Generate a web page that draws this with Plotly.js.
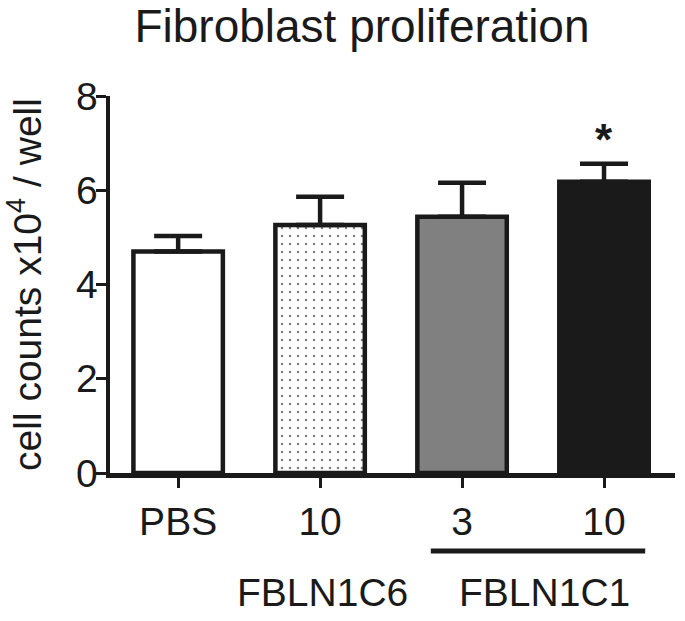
<!DOCTYPE html>
<html>
<head>
<meta charset="utf-8">
<script src="https://cdn.plot.ly/plotly-3.0.1.min.js"></script>
<style>
  html, body { margin: 0; padding: 0; background: #fff; }
  #grafico { width: 685px; height: 621px; }
</style>
</head>
<body>
<div id="grafico"></div>
<script>
// data
const categories = ['PBS', '10', '3', '10'];
const means = [4.70, 5.26, 5.44, 6.18];
const errors = [0.33, 0.60, 0.72, 0.38];
const fills = ['#ffffff', '#ffffff', '#808080', '#1a1a1a'];
const patterns = ['', '.', '', ''];
const groupLabels = ['FBLN1C6', 'FBLN1C1'];
const sigMarks = ['', '', '', '*'];

const ink = '#1a1a1a';
const font = 'Liberation Sans, Arial, sans-serif';
const xs = categories.map((c, i) => i);

// one trace per bar so each can carry its own fill / pattern
const traces = xs.map(i => {
    const marker = { color: fills[i], line: { color: ink, width: 4.5 } };
    if (patterns[i]) {
        marker.pattern = { shape: patterns[i], fgcolor: '#000000', bgcolor: '#ffffff', size: 8, solidity: 0.08, fillmode: 'overlay' };
    }
    return {
        type: 'bar',
        x: [i],
        y: [means[i]],
        width: 0.63,
        marker,
        error_y: {
            type: 'data', symmetric: false,
            array: [errors[i]], arrayminus: [0],
            color: ink, thickness: 4.5, width: 24
        },
        hoverinfo: 'skip'
    };
});

const annotations = [];
sigMarks.forEach((m, i) => {
    if (!m) return;
    annotations.push({
        x: i, y: means[i] + errors[i], xref: 'x', yref: 'y',
        text: m, showarrow: false, yanchor: 'bottom', yshift: -2,
        font: { family: font, size: 44, color: ink, weight: 'bold' }
    });
});
// group labels under the tick labels
annotations.push({ x: 1.02, y: -0.318, xref: 'x', yref: 'paper', text: groupLabels[0], showarrow: false, yanchor: 'middle', font: { family: font, size: 39, color: ink } });
annotations.push({ x: 2.58, y: -0.318, xref: 'x', yref: 'paper', text: groupLabels[1], showarrow: false, yanchor: 'middle', font: { family: font, size: 39, color: ink } });

const layout = {
    width: 685, height: 621,
    margin: { l: 110, r: 10, t: 96, b: 148 },
    paper_bgcolor: '#ffffff', plot_bgcolor: '#ffffff',
    font: { family: font, color: ink },
    showlegend: false,
    barmode: 'overlay',
    title: { text: 'Fibroblast proliferation', font: { size: 46, color: ink }, x: 0.446, xanchor: 'center', xref: 'paper', y: 0.958, yanchor: 'middle', yref: 'container' },
    xaxis: {
        range: [-0.48, 3.5], tickmode: 'array', tickvals: xs, ticktext: categories,
        showline: true, linecolor: ink, linewidth: 4.5,
        ticks: 'outside', ticklen: 10, tickwidth: 3, tickcolor: ink,
        ticklabelstandoff: 1,
        tickfont: { size: 39, color: ink },
        showgrid: false, zeroline: false, fixedrange: true
    },
    yaxis: {
        range: [0, 8], dtick: 2, tick0: 0,
        showline: true, linecolor: ink, linewidth: 4.5,
        ticks: 'outside', ticklen: 10, tickwidth: 3, tickcolor: ink,
        ticklabelstandoff: -10,
        tickfont: { size: 39, color: ink },
        showgrid: false, zeroline: false, fixedrange: true,
        title: { text: 'cell counts x10<sup>4</sup> / well', font: { size: 39, color: ink }, standoff: 26 }
    },
    shapes: [{
        type: 'line', xref: 'x', yref: 'paper',
        x0: 1.78, x1: 3.29, y0: -0.207, y1: -0.207,
        line: { color: ink, width: 5 }
    }],
    annotations
};

Plotly.newPlot('grafico', traces, layout, { displayModeBar: false, staticPlot: true });
</script>
</body>
</html>
